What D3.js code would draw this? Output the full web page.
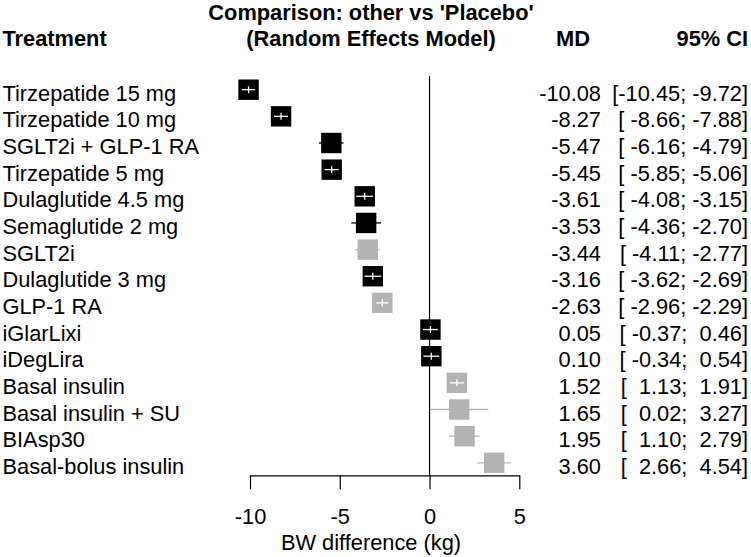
<!DOCTYPE html>
<html>
<head>
<meta charset="utf-8">
<script src="https://cdn.jsdelivr.net/npm/d3@7/dist/d3.min.js"></script>
<style>
  html, body { margin: 0; padding: 0; background: #fff; }
  svg text { font-family: "Liberation Sans", Arial, Helvetica, sans-serif; white-space: pre; }
</style>
</head>
<body>
<svg id="chart" width="751" height="557"></svg>
<script>
const treatments = ["Tirzepatide 15 mg","Tirzepatide 10 mg","SGLT2i + GLP-1 RA","Tirzepatide 5 mg",
  "Dulaglutide 4.5 mg","Semaglutide 2 mg","SGLT2i","Dulaglutide 3 mg","GLP-1 RA","iGlarLixi",
  "iDegLira","Basal insulin","Basal insulin + SU","BIAsp30","Basal-bolus insulin"];
const md    = [-10.08,-8.27,-5.47,-5.45,-3.61,-3.53,-3.44,-3.16,-2.63,0.05,0.10,1.52,1.65,1.95,3.60];
const lower = [-10.45,-8.66,-6.16,-5.85,-4.08,-4.36,-4.11,-3.62,-2.96,-0.37,-0.34,1.13,0.02,1.10,2.66];
const upper = [-9.72,-7.88,-4.79,-5.06,-3.15,-2.70,-2.77,-2.69,-2.29,0.46,0.54,1.91,3.27,2.79,4.54];
const group = ["black","black","black","black","black","black","gray","black","gray","black",
  "black","gray","gray","gray","gray"];
const xTicks = [-10,-5,0,5];

const FS = 21.8;
const colors = {black: "#000000", gray: "#b3b3b3"};
const svg = d3.select("#chart");
const x = d3.scaleLinear().domain([-10,5]).range([250, 519.3]);
const y = d3.scalePoint().domain(treatments).range([89.7, 462.8]);
const axisY = 475.3;
const box = 20.4;

const rows = treatments.map((t,i)=>({t, md: md[i], lo: lower[i], hi: upper[i], g: group[i]}));

// headers
const hdr = svg.append("g").attr("font-weight","bold").attr("font-size",FS).attr("fill","#000");
hdr.append("text").attr("x",2.5).attr("y",46).text("Treatment");
hdr.append("text").attr("x",371).attr("y",20).attr("text-anchor","middle").text("Comparison: other vs 'Placebo'");
hdr.append("text").attr("x",371).attr("y",46).attr("text-anchor","middle").text("(Random Effects Model)");
hdr.append("text").attr("x",573).attr("y",46).attr("text-anchor","middle").text("MD");
hdr.append("text").attr("x",748).attr("y",46).attr("text-anchor","end").text("95% CI");

// zero line
svg.append("line").attr("x1",x(0)).attr("x2",x(0)).attr("y1",76).attr("y2",axisY)
  .attr("stroke","#000").attr("stroke-width",1.2);

// rows
const g = svg.append("g");
rows.forEach(r=>{
  const cy = y(r.t);
  const col = colors[r.g];
  const inside = (x(r.hi)-x(r.lo)) <= box;
  if (!inside) {
    g.append("line").attr("x1",x(r.lo)).attr("x2",x(r.hi)).attr("y1",cy).attr("y2",cy)
      .attr("stroke",col).attr("stroke-width",1.3);
  }
  g.append("rect").attr("x",x(r.md)-box/2).attr("y",cy-box/2).attr("width",box).attr("height",box)
    .attr("fill",col);
  if (inside) {
    g.append("line").attr("x1",x(r.lo)).attr("x2",x(r.hi)).attr("y1",cy).attr("y2",cy)
      .attr("stroke","#fff").attr("stroke-width",1.3);
    g.append("line").attr("x1",x(r.md)).attr("x2",x(r.md)).attr("y1",cy-3.5).attr("y2",cy+3.5)
      .attr("stroke","#fff").attr("stroke-width",1.3);
  }
  g.append("text").attr("x",2.5).attr("y",cy+11).attr("font-size",FS).text(r.t);
  g.append("text").attr("x",601).attr("y",cy+11).attr("font-size",FS).attr("text-anchor","end")
    .text(r.md.toFixed(2));
  const lo = r.lo.toFixed(2).padStart(6," ");
  const hi = r.hi.toFixed(2).padStart(5," ");
  g.append("text").attr("x",748).attr("y",cy+11).attr("font-size",FS).attr("text-anchor","end")
    .text("[" + lo + "; " + hi + "]");
});

// axis
const ax = svg.append("g").attr("transform",`translate(0,${axisY})`)
  .call(d3.axisBottom(x).tickValues(xTicks).tickFormat(d3.format("d")).tickSize(14).tickSizeOuter(0).tickPadding(19));
ax.select(".domain").attr("stroke","#000").attr("stroke-width",1.2);
ax.selectAll(".tick line").attr("stroke","#000").attr("stroke-width",1.2);
ax.selectAll(".tick text").attr("font-size",FS).attr("fill","#000")
  .attr("font-family","'Liberation Sans', Arial, Helvetica, sans-serif")
  .text(d => d < 0 ? "-" + Math.abs(d) : String(d));

svg.append("text").attr("x",371).attr("y",549.5).attr("text-anchor","middle").attr("font-size",FS)
  .text("BW difference (kg)");
</script>
</body>
</html>
